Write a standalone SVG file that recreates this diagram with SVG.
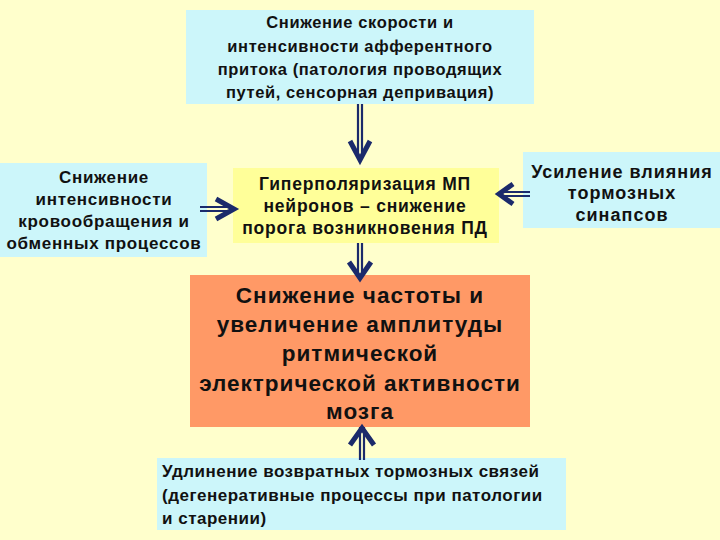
<svg xmlns="http://www.w3.org/2000/svg" width="720" height="540" viewBox="0 0 720 540">
<style>
.bg{fill:#FFFFCC}
.cyan{fill:#CCF6FA}
.yel{fill:#FFFF99}
.org{fill:#FF9966}
text{font-family:"Liberation Sans",Arial,sans-serif;font-weight:bold;fill:#111;text-anchor:middle}
.t-top{font-size:16.5px;letter-spacing:0.6px}
.t-left{font-size:17px;letter-spacing:0.7px}
.t-mid{font-size:17.5px;letter-spacing:0.8px}
.t-right{font-size:18px;letter-spacing:1px}
.t-res{font-size:22.5px;letter-spacing:1px}
.t-bot{font-size:17px;letter-spacing:0.5px;text-anchor:start}
.shaft{stroke:#1B2A6B;stroke-width:2.2;fill:none}
.head{stroke:#1B2A6B;stroke-width:5;fill:none;stroke-linejoin:miter;stroke-linecap:butt}
</style>
<rect class="bg" x="0" y="0" width="720" height="540"/>
<g id="top">
<rect class="cyan" x="186" y="10" width="348" height="94"/>
<text class="t-top" x="360" y="28">Снижение  скорости и</text>
<text class="t-top" x="360" y="52">интенсивности афферентного</text>
<text class="t-top" x="360" y="75">притока (патология проводящих</text>
<text class="t-top" x="360" y="98">путей, сенсорная депривация)</text>
</g>
<g id="left">
<rect class="cyan" x="0" y="163" width="207" height="94"/>
<text class="t-left" x="104" y="183">Снижение</text>
<text class="t-left" x="104" y="205">интенсивности</text>
<text class="t-left" x="104" y="227">кровообращения и</text>
<text class="t-left" x="104" y="249">обменных процессов</text>
</g>
<g id="mid">
<rect class="yel" x="233" y="168" width="266" height="75"/>
<text class="t-mid" x="365" y="190">Гиперполяризация МП</text>
<text class="t-mid" x="365" y="212">нейронов – снижение</text>
<text class="t-mid" x="365" y="234">порога возникновения ПД</text>
</g>
<g id="right">
<rect class="cyan" x="523" y="152" width="197" height="76"/>
<text class="t-right" x="622" y="178">Усиление влияния</text>
<text class="t-right" x="622" y="199">тормозных</text>
<text class="t-right" x="622" y="221">синапсов</text>
</g>
<g id="result">
<rect class="org" x="190" y="275" width="340" height="152"/>
<text class="t-res" x="360" y="303">Снижение частоты и</text>
<text class="t-res" x="360" y="332">увеличение  амплитуды</text>
<text class="t-res" x="360" y="361">ритмической</text>
<text class="t-res" x="360" y="391">электрической активности</text>
<text class="t-res" x="360" y="419">мозга</text>
</g>
<g id="bottom">
<rect class="cyan" x="157" y="458" width="409" height="72"/>
<text class="t-bot" x="162" y="477">Удлинение возвратных тормозных связей</text>
<text class="t-bot" x="162" y="501">(дегенеративные процессы при патологии</text>
<text class="t-bot" x="162" y="524">и старении)</text>
</g>
<g id="connectors">
<path class="shaft" d="M358 104V158M362 104V158"/>
<path class="head" d="M350 141L360 160L370 141"/>
<path class="shaft" d="M200 207H232M200 211H232"/>
<path class="head" d="M216 199L234 209L216 219"/>
<path class="shaft" d="M530 192H500M530 196H500"/>
<path class="head" d="M513 184L499 194L513 204"/>
<path class="shaft" d="M358 243V276M362 243V276"/>
<path class="head" d="M349 262L360 278L371 262"/>
<path class="shaft" d="M360 427V460M364 427V460"/>
<path class="head" d="M350 445L362 428L374 445"/>
</g>
</svg>
